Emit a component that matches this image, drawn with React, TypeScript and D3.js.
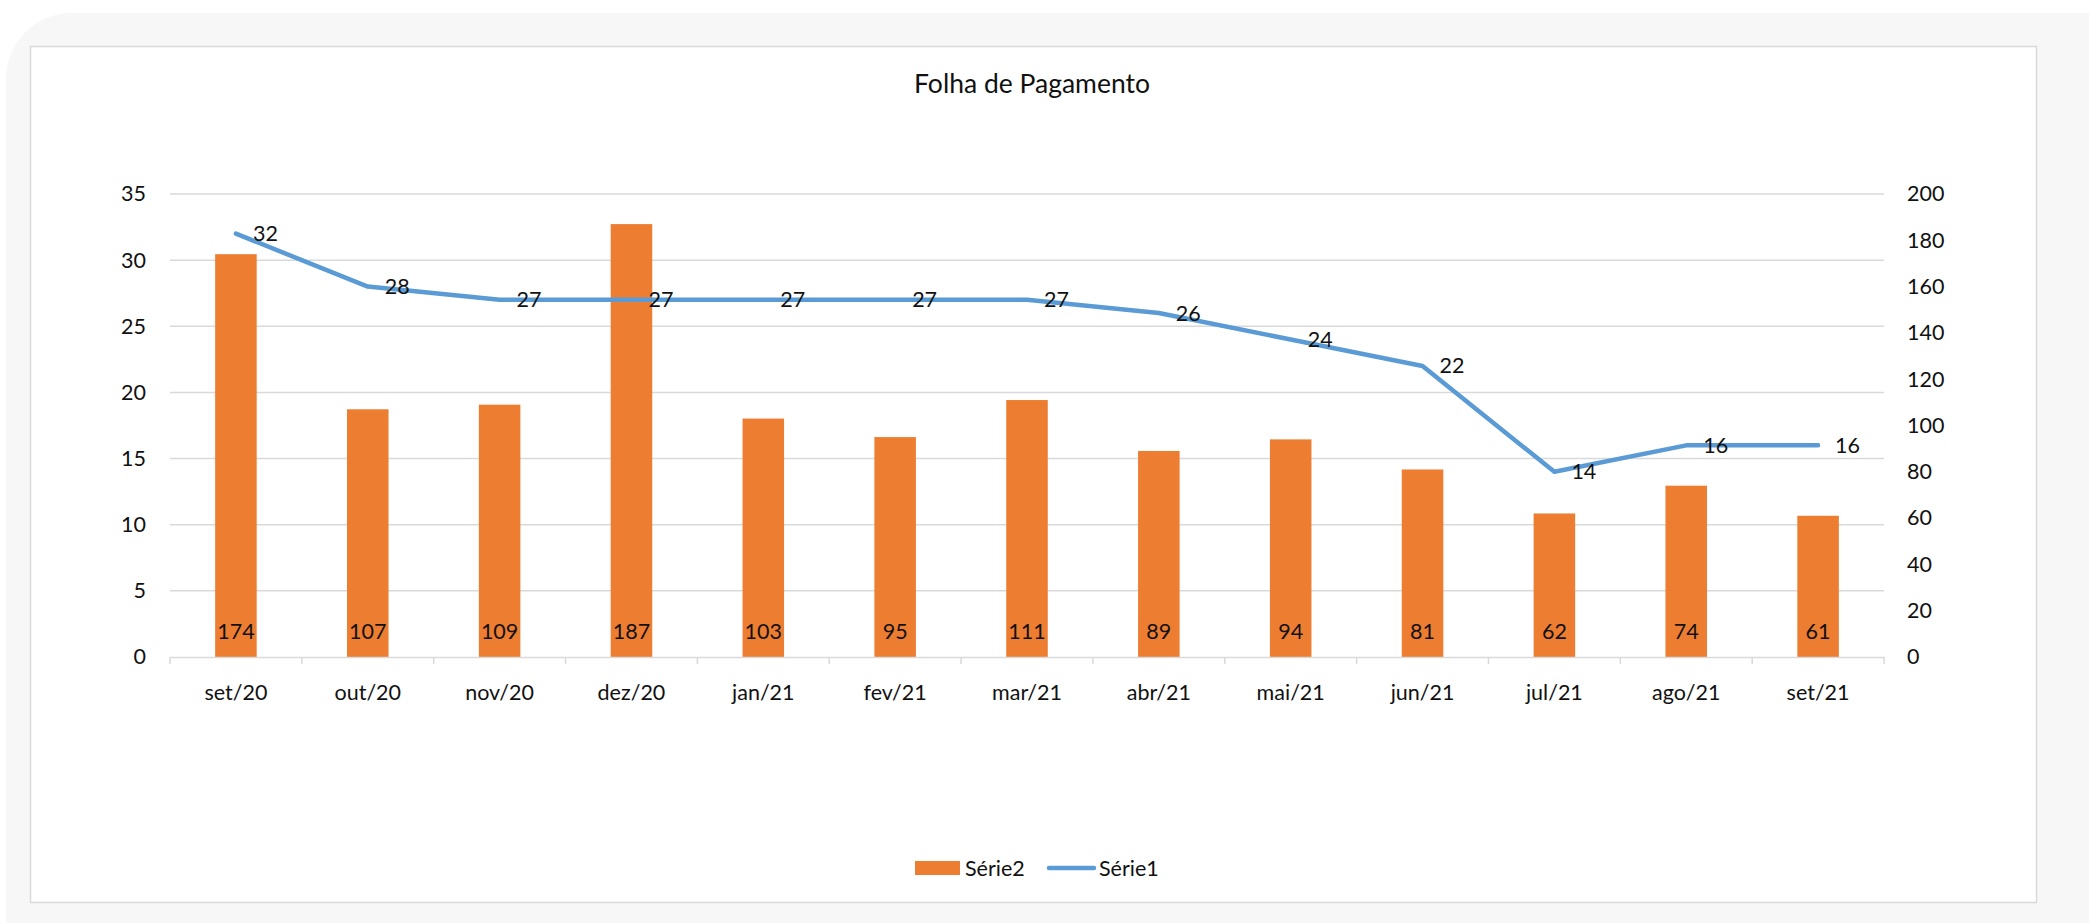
import React, { useEffect, useRef } from 'react';
import * as d3 from 'd3';

const MONTHS = [
  'set/20', 'out/20', 'nov/20', 'dez/20', 'jan/21', 'fev/21', 'mar/21',
  'abr/21', 'mai/21', 'jun/21', 'jul/21', 'ago/21', 'set/21',
];

// Série1 - line, left axis
const SERIE1 = [32, 28, 27, 27, 27, 27, 27, 26, 24, 22, 14, 16, 16];
// Série2 - bars, right axis
const SERIE2 = [174, 107, 109, 187, 103, 95, 111, 89, 94, 81, 62, 74, 61];

const LEFT_TICKS = [0, 5, 10, 15, 20, 25, 30, 35];
const RIGHT_TICKS = [0, 20, 40, 60, 80, 100, 120, 140, 160, 180, 200];

const TITLE = 'Folha de Pagamento';
const BAR_COLOR = '#ed7d31';
const LINE_COLOR = '#5b9bd5';
const GRID = '#d9d9d9';
const FONT = 'Lato, "Open Sans", sans-serif';

const W = 2089;
const H = 923;

const App: React.FC = () => {
  const svgRef = useRef<SVGSVGElement>(null);

  useEffect(() => {
    if (!svgRef.current) return;
    const svg = d3.select(svgRef.current);
    svg.selectAll('*').remove();

    // background panel + chart box
    svg.append('rect').attr('width', W).attr('height', H).attr('fill', '#ffffff');
    svg.append('rect')
      .attr('x', 6).attr('y', 13).attr('width', W - 6 + 60).attr('height', H + 60)
      .attr('rx', 66).attr('fill', '#f7f7f7');
    svg.append('rect')
      .attr('x', 30.5).attr('y', 46.5).attr('width', 2006).attr('height', 856)
      .attr('fill', '#ffffff').attr('stroke', GRID).attr('stroke-width', 1.5);

    const plot = { left: 170, right: 1884, top: 194, bottom: 657 };

    const x = d3.scaleBand().domain(MONTHS).range([plot.left, plot.right]);
    const yL = d3.scaleLinear().domain([0, 35]).range([plot.bottom, plot.top]);
    const yR = d3.scaleLinear().domain([0, 200]).range([plot.bottom, plot.top]);

    // title
    svg.append('text')
      .attr('x', 1032).attr('y', 93)
      .attr('text-anchor', 'middle')
      .attr('font-family', FONT).attr('font-size', 26.5).attr('fill', '#111')
      .text(TITLE);

    // gridlines
    const grid = svg.append('g');
    LEFT_TICKS.filter((t) => t > 0).forEach((t) => {
      grid.append('line')
        .attr('x1', plot.left).attr('x2', plot.right)
        .attr('y1', yL(t)).attr('y2', yL(t))
        .attr('stroke', GRID).attr('stroke-width', 1.5);
    });

    // left axis labels
    const left = svg.append('g')
      .attr('transform', `translate(${plot.left - 24},0)`)
      .call(d3.axisLeft(yL).tickValues(LEFT_TICKS).tickSize(0).tickPadding(0));
    left.select('.domain').remove();
    left.selectAll('text')
      .attr('font-family', FONT).attr('font-size', 21.5).attr('fill', '#111');

    // right axis labels
    const right = svg.append('g')
      .attr('transform', `translate(${plot.right + 23},0)`)
      .call(d3.axisRight(yR).tickValues(RIGHT_TICKS).tickSize(0).tickPadding(0));
    right.select('.domain').remove();
    right.selectAll('text')
      .attr('font-family', FONT).attr('font-size', 21.5).attr('fill', '#111');

    // bars
    const bw = x.bandwidth() * 0.315;
    svg.append('g').selectAll('rect')
      .data(SERIE2)
      .join('rect')
      .attr('x', (_, i) => (x(MONTHS[i]) ?? 0) + x.bandwidth() / 2 - bw / 2)
      .attr('y', (d) => yR(d))
      .attr('width', bw)
      .attr('height', (d) => plot.bottom - yR(d))
      .attr('fill', BAR_COLOR);

    // bar labels
    svg.append('g').selectAll('text')
      .data(SERIE2)
      .join('text')
      .attr('x', (_, i) => (x(MONTHS[i]) ?? 0) + x.bandwidth() / 2)
      .attr('y', plot.bottom - 18)
      .attr('text-anchor', 'middle')
      .attr('font-family', FONT).attr('font-size', 21.5).attr('fill', '#111')
      .text((d) => d);

    // x axis
    const xAxis = svg.append('g')
      .attr('transform', `translate(0,${plot.bottom})`)
      .call(d3.axisBottom(x).tickSize(0).tickPadding(28));
    xAxis.select('.domain').attr('stroke', GRID).attr('stroke-width', 1.5);
    xAxis.selectAll('text')
      .attr('font-family', FONT).attr('font-size', 21.5).attr('fill', '#111');
    const bounds = MONTHS.map((m) => x(m) ?? 0).concat([plot.right]);
    xAxis.selectAll('line.bound')
      .data(bounds)
      .join('line')
      .attr('class', 'bound')
      .attr('x1', (d) => d).attr('x2', (d) => d)
      .attr('y1', 0).attr('y2', 7)
      .attr('stroke', GRID).attr('stroke-width', 1.5);

    // line
    const line = d3.line<number>()
      .x((_, i) => (x(MONTHS[i]) ?? 0) + x.bandwidth() / 2)
      .y((d) => yL(d));
    svg.append('path')
      .datum(SERIE1)
      .attr('d', line)
      .attr('fill', 'none')
      .attr('stroke', LINE_COLOR)
      .attr('stroke-width', 4.5)
      .attr('stroke-linecap', 'round')
      .attr('stroke-linejoin', 'round');

    // line labels
    svg.append('g').selectAll('text')
      .data(SERIE1)
      .join('text')
      .attr('x', (_, i) => (x(MONTHS[i]) ?? 0) + x.bandwidth() / 2 + 17)
      .attr('y', (d) => yL(d))
      .attr('dy', '0.35em')
      .attr('font-family', FONT).attr('font-size', 21.5).attr('fill', '#111')
      .text((d) => d);

    // legend
    const lg = svg.append('g');
    lg.append('rect')
      .attr('x', 915).attr('y', 861).attr('width', 45).attr('height', 14)
      .attr('fill', BAR_COLOR);
    lg.append('text')
      .attr('x', 965).attr('y', 876)
      .attr('font-family', FONT).attr('font-size', 21.5).attr('fill', '#111')
      .text('Série2');
    lg.append('line')
      .attr('x1', 1049).attr('x2', 1094).attr('y1', 868).attr('y2', 868)
      .attr('stroke', LINE_COLOR).attr('stroke-width', 4.5).attr('stroke-linecap', 'round');
    lg.append('text')
      .attr('x', 1099).attr('y', 876)
      .attr('font-family', FONT).attr('font-size', 21.5).attr('fill', '#111')
      .text('Série1');
  }, []);

  return (
    <svg
      ref={svgRef}
      width={W}
      height={H}
      style={{ position: 'absolute', left: 0, top: 0, display: 'block' }}
      role="img"
      aria-label={TITLE}
    />
  );
};

export default App;
